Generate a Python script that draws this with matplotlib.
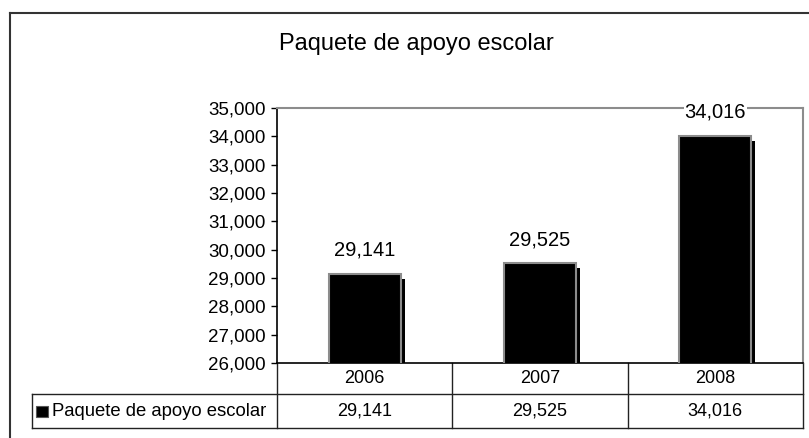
import matplotlib
matplotlib.use("Agg")
import matplotlib.pyplot as plt
import matplotlib.transforms as mtransforms
from matplotlib.lines import Line2D
from matplotlib.patches import Rectangle

# data
years = ["2006", "2007", "2008"]
values = [29141, 29525, 34016]
series_name = "Paquete de apoyo escolar"
title = "Paquete de apoyo escolar"
yticks = list(range(26000, 35001, 1000))

plt.rcParams["font.family"] = ["Liberation Sans", "DejaVu Sans"]

W, H = 809, 438
fig = plt.figure(figsize=(W / 100, H / 100), dpi=100)

# axes placed in pixel units
left, right, top, bottom = 277, 803, 108, 363
ax = fig.add_axes([left / W, (H - bottom) / H, (right - left) / W, (bottom - top) / H])

x = list(range(len(years)))

# shadow behind bars (offset right and down)
shadow = ax.transData + mtransforms.ScaledTranslation(4 / 100, -5 / 100, fig.dpi_scale_trans)
ax.bar(x, values, width=0.41, color="black", transform=shadow, zorder=2)
ax.bar(x, values, width=0.41, color="black", edgecolor="#8c8c8c", linewidth=1.5, zorder=3)

# data labels
for xi, v in zip(x, values):
    ax.annotate(f"{v:,}", (xi, v), xytext=(0, 17), textcoords="offset points",
                ha="center", va="center", fontsize=14.5, zorder=5,
                bbox=dict(boxstyle="square,pad=0.05", fc="white", ec="none"))

ax.set_xlim(-0.5, len(years) - 0.5)
ax.set_ylim(26000, 35000)
ax.set_yticks(yticks)
ax.set_yticklabels([f"{t:,}" for t in yticks], fontsize=13.5)
ax.tick_params(axis="y", length=4, width=1, pad=4, direction="out")
ax.set_xticks([])

for s in ["top", "right"]:
    ax.spines[s].set_color("#8c8c8c")
    ax.spines[s].set_linewidth(1.5)
for s in ["left", "bottom"]:
    ax.spines[s].set_color("black")
    ax.spines[s].set_linewidth(1.2)

# data table below the plot
tr = mtransforms.blended_transform_factory(ax.transData, ax.transAxes)
row1 = (363 - 394) / (bottom - top)
row2 = (363 - 428) / (bottom - top)
legend_left = (32 - left) / (right - left)
lc = "#222222"

# vertical dividers
for b in [-0.5, 0.5, 1.5, 2.5]:
    ax.add_line(Line2D([b, b], [0, row2], transform=tr, color=lc, lw=1, clip_on=False))
# horizontal lines
ax.add_line(Line2D([legend_left, 1], [row1, row1], transform=ax.transAxes, color=lc, lw=1, clip_on=False))
ax.add_line(Line2D([legend_left, 1], [row2, row2], transform=ax.transAxes, color=lc, lw=1, clip_on=False))
ax.add_line(Line2D([legend_left, legend_left], [row1, row2], transform=ax.transAxes, color=lc, lw=1, clip_on=False))

for xi, yr, v in zip(x, years, values):
    ax.text(xi, row1 / 2, yr, transform=tr, ha="center", va="center", fontsize=13)
    ax.text(xi, (row1 + row2) / 2, f"{v:,}", transform=tr, ha="center", va="center", fontsize=13)

# legend key + series name
key_x = (36 - left) / (right - left)
key_w = 12 / (right - left)
key_h = 11 / (bottom - top)
ymid = (row1 + row2) / 2
ax.add_patch(Rectangle((key_x, ymid - key_h / 2), key_w, key_h, transform=ax.transAxes,
                       facecolor="black", edgecolor="#555555", lw=0.8, clip_on=False))
ax.text((52 - left) / (right - left), ymid, series_name, transform=ax.transAxes,
        ha="left", va="center", fontsize=13.3)

# chart title
fig.text(416 / W, 1 - 50 / H, title, ha="center", va="baseline", fontsize=17)

# outer chart border (left and top visible)
bx, by = 9.5 / W, 1 - 13 / H
fig.add_artist(Line2D([bx, 1.01], [by, by], transform=fig.transFigure, color="#333333", lw=1.5))
fig.add_artist(Line2D([bx, bx], [-0.01, by], transform=fig.transFigure, color="#333333", lw=1.5))

fig.savefig("out.png", dpi=100)
